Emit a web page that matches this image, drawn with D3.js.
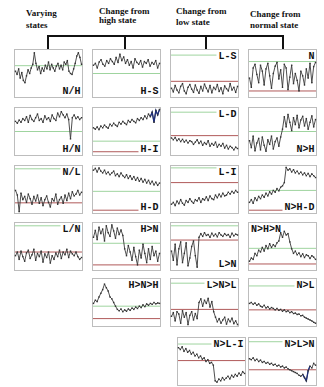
<!DOCTYPE html>
<html><head><meta charset="utf-8">
<script src="https://cdn.jsdelivr.net/npm/d3@7"></script>
<style>body{margin:0;background:#fff}svg{display:block}</style>
</head><body><svg id="c" width="324" height="387"></svg>
<script>
// ---------- data ----------
const columnTitles = [["Varying","states"],["Change from","high state"],["Change from","low state"],["Change from","normal state"]];
const panelLabels = ["N/H","H-S","L-S","N","H/N","H-I","L-D","N>H","N/L","H-D","L-I","N>H-D","L/N","H>N","L>N","N>H>N","H>N>H","L>N>L","N>L","N>L-I","N>L>N"];
const greenLevels = [67,50,90,76,50,29,92,50,95,46,97,48,95,57,95,46,42,92,86,88,93];
const redLevels   = [null,null,33,12,null,6,41,null,21,5,65,5,38,10,64,12,15,35,34,52,32];

const sNH  = [55,48,60,40,52,35,30,45,58,50,62,70,95,72,58,65,50,62,55,68,60,75,58,70,62,55,66,72,60,68,58,75,70,78,55,50,48,60,72,88,95,85,70];
const sHS  = [68,72,62,75,80,70,66,78,72,82,76,70,85,74,92,78,86,72,80,68,76,62,82,74,70,78,64,76,72,80,66,74,70,78,62,72];
const sLS  = [18,10,24,14,8,22,28,12,6,20,26,16,9,25,14,7,22,12,27,18,10,24,8,20,15,26,11,19,6,23,17,12,28,14,20,9,22];
const sN   = [40,20,62,70,48,30,68,55,25,60,72,45,18,50,66,74,38,58,20,70,62,15,42,68,28,50,35,12,55,45,25,60,40,72,30,65,74];
const sHN  = [72,68,75,70,78,74,82,70,85,76,72,80,88,74,78,70,84,76,80,72,86,78,74,90,82,93,86,80,88,76,34,80,86,78,82,76,80];
const sHI  = [58,55,60,54,62,58,64,60,57,66,62,68,64,61,70,66,72,68,65,74,70,76,72,69,78,74,80,76,84,78,88,82,92,70,96,86,98];
const sLD  = [36,32,37,30,34,28,33,27,31,25,30,28,22,27,32,24,29,20,26,22,30,18,24,20,27,16,22,18,24,14,20,12,18,15,10,16,13];
const sNtoH = [30,15,40,8,25,35,10,38,20,7,32,22,40,12,28,36,18,38,55,82,60,87,70,52,80,65,85,58,75,83,62,78,55,70,84,60,76];
const sNL  = [48,38,2,42,28,35,22,40,30,18,35,25,38,20,32,15,28,36,22,12,30,25,40,18,28,34,20,38,26,42,30,45,36,40,48,38,44];
const sHD  = [92,96,88,97,90,86,92,84,88,82,86,90,80,84,78,86,80,76,82,74,80,72,78,70,76,68,74,66,72,64,70,62,68,60,66,59,64];
const sLI  = [18,22,15,25,19,28,20,16,26,22,30,24,20,28,25,32,22,30,27,34,26,36,30,28,38,32,40,34,42,36,38,44,40,46,42,48,44];
const sNHD = [22,28,20,32,26,35,30,38,33,42,36,45,40,48,44,52,47,55,58,65,98,92,95,88,93,86,90,84,88,82,86,80,85,78,84,80,76];
const sLN  = [30,38,22,40,28,18,36,42,24,32,44,20,35,28,40,16,34,26,38,14,30,22,36,28,42,24,38,32,44,26,40,34,30,38,28,22,26];
const sHtoN = [70,85,65,92,78,88,62,95,80,72,97,84,68,90,76,86,74,45,30,52,38,20,48,28,10,42,25,55,35,15,45,22,50,30,40,18,35];
const sLtoN = [40,20,55,10,45,60,15,35,58,8,25,50,62,30,5,70,78,72,80,74,76,70,79,73,77,71,80,75,72,78,74,76,70,79,73,77,75];
const sNHN = [18,25,22,35,30,42,38,48,40,52,45,56,48,54,50,58,62,80,70,83,75,78,60,45,35,40,32,36,28,34,26,32,30,24,30,27,22];
const sHNH = [48,55,52,62,70,78,90,82,75,62,58,50,42,35,32,36,30,34,31,36,33,38,35,40,37,42,39,45,41,47,44,48,46,50,47,49,48];
const sLNL = [20,28,10,30,25,5,32,18,28,2,22,30,12,26,15,50,58,42,55,48,59,40,52,30,18,8,15,5,12,18,3,14,8,16,4,10,2];
const sNtoL = [48,50,46,49,44,47,42,40,44,38,41,36,39,37,34,37,33,35,31,34,30,32,28,30,26,27,24,25,21,22,18,16,14,12,10,7,5];
const sNLI = [80,76,82,72,78,70,74,66,70,62,66,58,62,55,58,50,54,46,48,42,8,5,12,8,15,10,14,18,12,20,16,22,18,25,20,28,24];
const sNLN = [56,54,58,52,55,50,53,48,50,46,48,44,46,42,44,40,42,38,40,36,38,34,32,30,28,26,24,20,18,22,15,8,30,40,36,46,42];

const seriesList = [sNH,sHS,sLS,sN,sHN,sHI,sLD,sNtoH,sNL,sHD,sLI,sNHD,sLN,sHtoN,sLtoN,sNHN,sHNH,sLNL,sNtoL,sNLI,sNLN];

// ---------- layout ----------
const colX = [14,92,170,248];
const rowY = [49,107,165,222,278,337];
const W = 68, H = 48;
// [col,row,labelPos,xShift,highlightStart,highlightEnd]
const layout = [
 [0,0,"b"],[1,0,"b"],[2,0,"t"],[3,0,"t"],
 [0,1,"b"],[1,1,"b",0,31,36],[2,1,"t"],[3,1,"b"],
 [0,2,"t"],[1,2,"b"],[2,2,"t"],[3,2,"b"],
 [0,3,"t"],[1,3,"t"],[2,3,"b"],[3,3,"tl"],
 [1,4,"t"],[2,4,"t"],[3,4,"t"],
 [2,5,"t",7],[3,5,"t",0,29,33]
];
const GREEN = "#9fd49f", RED = "#b05a5a";

const svg = d3.select("#c");

// column titles
const titleX = [26,99,176,250], titleY = [[16,27.5],[13.5,23],[14,25],[17,27.5]];
columnTitles.forEach((lines,c)=>{
  lines.forEach((t,k)=>{
    svg.append("text").attr("x",titleX[c]).attr("y",titleY[c][k]).text(t)
      .attr("font-family","Liberation Serif").attr("font-weight","bold").attr("font-size",9).attr("fill","#111");
  });
});

// bracket
const stubX = [48,125,206,283];
svg.append("line").attr("x1",stubX[0]-1).attr("x2",stubX[3]+1).attr("y1",36).attr("y2",36).attr("stroke","#111").attr("stroke-width",2);
stubX.forEach(x=>svg.append("line").attr("x1",x).attr("x2",x).attr("y1",36).attr("y2",49).attr("stroke","#111").attr("stroke-width",2));

layout.forEach((L,i)=>{
  const [c,r,lp,shift=0,h0,h1] = L;
  const g = svg.append("g").attr("transform",`translate(${colX[c]+shift},${rowY[r]})`);
  g.append("rect").attr("x",0.5).attr("y",0.5).attr("width",W).attr("height",H)
    .attr("fill","#fff").attr("stroke","#bdbdbd");
  const vals = seriesList[i];
  const xs = d3.scaleLinear().domain([0,vals.length-1]).range([1.5,W-0.5]);
  const ys = d3.scaleLinear().domain([0,100]).range([H-0.5,1.5]);

  // label
  const lab = g.append("text").text(panelLabels[i])
    .attr("font-family","Liberation Mono").attr("font-weight","bold").attr("font-size",10).attr("fill","#111");
  let band;
  if (lp==="b"){ lab.attr("x",W-1.5).attr("y",H-3).attr("text-anchor","end"); band=[H-12,H+1]; }
  else if (lp==="t"){ lab.attr("x",W-1.5).attr("y",10).attr("text-anchor","end"); band=[0,12]; }
  else { lab.attr("x",3).attr("y",10).attr("text-anchor","start"); band=[0,12]; }
  const bb = lab.node().getBBox();

  [[greenLevels[i],GREEN],[redLevels[i],RED]].forEach(([lv,col])=>{
    if (lv==null) return;
    const y = ys(lv);
    let x1 = 1, x2 = W;
    if (y>=band[0] && y<=band[1]) {
      if (lp==="tl") x1 = bb.x+bb.width+2; else x2 = bb.x-2;
    }
    g.append("line").attr("x1",x1).attr("x2",x2).attr("y1",y).attr("y2",y).attr("stroke",col).attr("stroke-width",1);
  });
  lab.raise();

  const line = d3.line().x((d,k)=>xs(k)).y(d=>ys(d));
  g.append("path").datum(vals).attr("d",line).attr("fill","none").attr("stroke","#3a3a3a").attr("stroke-width",0.9);
  if (h0!=null){
    g.append("path").datum(vals.slice(h0,h1+1)).attr("d",d3.line().x((d,k)=>xs(k+h0)).y(d=>ys(d)))
      .attr("fill","none").attr("stroke","#1f2f7a").attr("stroke-width",1.3);
  }
  g.selectAll("rect.pt").data(vals).join("rect").attr("class","pt")
    .attr("x",(d,k)=>xs(k)-0.7).attr("y",d=>ys(d)-0.7).attr("width",1.4).attr("height",1.4).attr("fill","#333");
});
</script></body></html>
